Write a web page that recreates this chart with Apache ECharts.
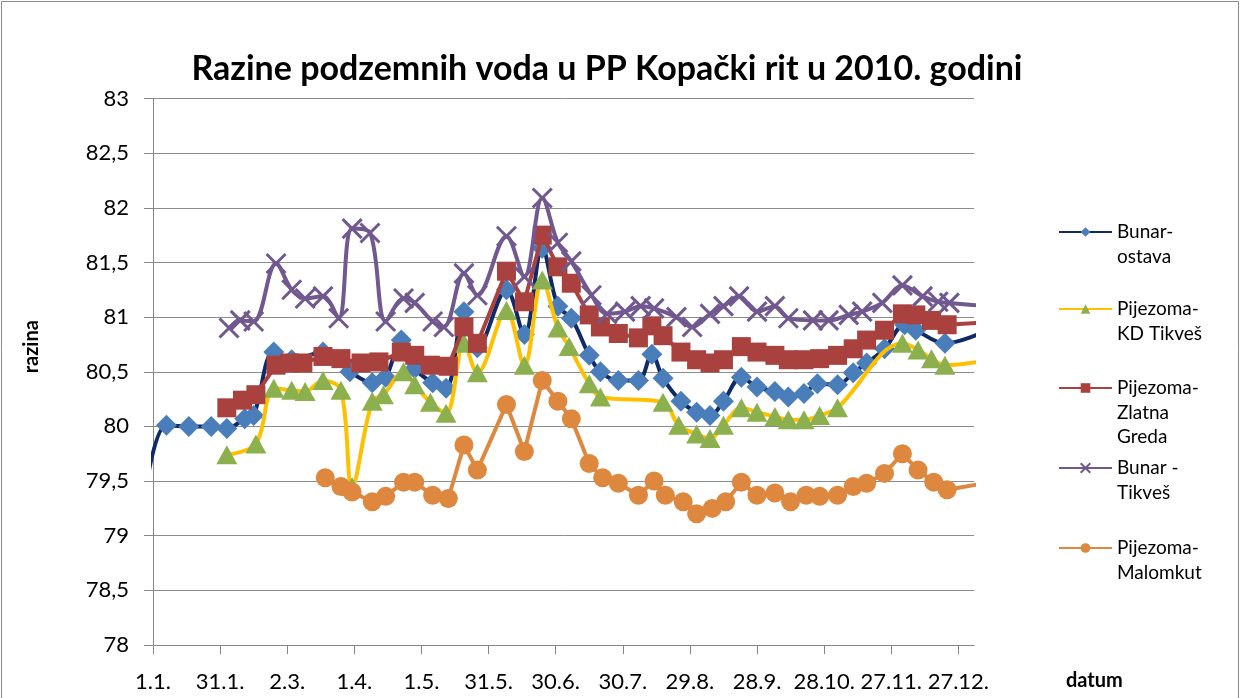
<!DOCTYPE html>
<html><head><meta charset="utf-8">
<script src="https://cdn.jsdelivr.net/npm/echarts@6/dist/echarts.min.js"></script>
<style>html,body{margin:0;padding:0;background:#fff}#c{width:1246px;height:698px}</style>
</head><body><div id="c"></div><script>
// Days counted from 1.1.2010 (0 = 1.1.)
const xTickDays = [0, 30, 60, 90, 120, 150, 180, 210, 240, 270, 300, 330, 360];
const yTicks = { min: 78, max: 83, step: 0.5 };

const seriesNames = ['Bunar-ostava', 'Pijezoma-KD Tikveš', 'Pijezoma-Zlatna Greda', 'Bunar - Tikveš', 'Pijezoma-Malomkut'];
const legendLabels = ['Bunar-\nostava', 'Pijezoma-\nKD Tikveš', 'Pijezoma-\nZlatna\nGreda', 'Bunar -\nTikveš', 'Pijezoma-\nMalomkut'];

const ostavaDays = [-5, 6, 16, 26, 33, 41, 45, 54, 62, 76, 88, 98, 104, 111, 117, 125, 131, 139, 145, 158, 166, 174, 181, 187, 195, 200, 208, 217, 223, 228, 236, 243, 249, 255, 263, 270, 278, 284, 291, 297, 306, 313, 319, 327, 336, 341, 354, 372];
const ostavaVals = [79.2, 80.01, 80.0, 80.0, 79.98, 80.07, 80.10, 80.68, 80.61, 80.68, 80.50, 80.40, 80.45, 80.79, 80.53, 80.40, 80.35, 81.05, 80.72, 81.25, 80.84, 81.63, 81.10, 80.99, 80.65, 80.50, 80.42, 80.42, 80.66, 80.44, 80.23, 80.13, 80.10, 80.23, 80.45, 80.36, 80.32, 80.27, 80.30, 80.39, 80.38, 80.49, 80.58, 80.71, 80.93, 80.88, 80.76, 80.87];

const kdDays = [33, 46, 54, 62, 68, 76, 84, 89, 98, 103, 112, 117, 124, 131, 139, 145, 158, 166, 174, 181, 186, 195, 200, 228, 235, 243, 249, 255, 263, 270, 278, 284, 291, 298, 306, 335, 342, 348, 354, 372];
const kdVals = [79.74, 79.84, 80.35, 80.33, 80.32, 80.42, 80.33, 79.45, 80.23, 80.29, 80.50, 80.38, 80.22, 80.12, 80.76, 80.49, 81.06, 80.56, 81.34, 80.90, 80.73, 80.39, 80.27, 80.22, 80.01, 79.93, 79.89, 80.01, 80.17, 80.13, 80.09, 80.06, 80.06, 80.10, 80.17, 80.76, 80.70, 80.62, 80.56, 80.60];

const zgDays = [33, 40, 46, 55, 61, 67, 76, 84, 93, 101, 111, 117, 124, 132, 139, 145, 158, 166, 174, 181, 187, 195, 200, 208, 217, 223, 228, 236, 243, 249, 255, 263, 270, 278, 284, 291, 298, 306, 313, 319, 327, 335, 341, 348, 355, 372];
const zgVals = [80.17, 80.24, 80.29, 80.56, 80.58, 80.58, 80.64, 80.62, 80.58, 80.59, 80.68, 80.65, 80.56, 80.55, 80.91, 80.76, 81.42, 81.14, 81.75, 81.46, 81.31, 81.02, 80.91, 80.85, 80.81, 80.92, 80.83, 80.68, 80.61, 80.58, 80.61, 80.73, 80.68, 80.65, 80.61, 80.61, 80.62, 80.65, 80.71, 80.79, 80.88, 81.03, 81.02, 80.97, 80.93, 80.95];

const tikDays = [34, 39, 45, 55, 62, 68, 76, 83, 89, 97, 104, 112, 117, 125, 130, 139, 145, 158, 166, 174, 181, 187, 196, 203, 211, 218, 224, 234, 241, 249, 255, 262, 270, 278, 284, 295, 302, 311, 317, 326, 335, 344, 351, 356, 372];
const tikVals = [80.90, 80.97, 80.96, 81.49, 81.25, 81.17, 81.19, 80.99, 81.81, 81.77, 80.96, 81.17, 81.13, 80.96, 80.91, 81.40, 81.20, 81.74, 81.37, 82.09, 81.68, 81.51, 81.20, 81.03, 81.05, 81.10, 81.08, 81.00, 80.91, 81.03, 81.10, 81.19, 81.05, 81.10, 80.99, 80.97, 80.97, 81.02, 81.05, 81.13, 81.29, 81.19, 81.14, 81.13, 81.10];

const malDays = [77, 84, 89, 98, 104, 112, 117, 125, 132, 139, 145, 158, 166, 174, 181, 187, 195, 201, 208, 217, 224, 229, 237, 243, 250, 256, 263, 270, 278, 285, 292, 298, 306, 313, 319, 327, 335, 342, 349, 355, 372];
const malVals = [79.53, 79.45, 79.40, 79.31, 79.36, 79.49, 79.49, 79.37, 79.34, 79.83, 79.60, 80.20, 79.77, 80.42, 80.23, 80.07, 79.66, 79.53, 79.48, 79.37, 79.50, 79.37, 79.31, 79.20, 79.25, 79.31, 79.49, 79.37, 79.39, 79.31, 79.37, 79.36, 79.37, 79.45, 79.48, 79.57, 79.75, 79.60, 79.49, 79.42, 79.48];

const FONT = 'Lato, "Liberation Sans", sans-serif';
const BASE = Date.UTC(2010, 0, 1);
function fmtDay(d) {
  const t = new Date(BASE + d * 86400000);
  return t.getUTCDate() + '.' + (t.getUTCMonth() + 1) + '.';
}
function pairs(days, vals) { return days.map((d, i) => [d, vals[i]]); }

const styles = [
  { line: '#0F2A66', mark: '#4A7EBB', symbol: 'diamond', size: 21, smooth: 0.35 },
  { line: '#FFC000', mark: '#8DB04F', symbol: 'triangle', size: [21, 19], smooth: 0.35 },
  { line: '#A9423F', mark: '#A9423F', symbol: 'rect', size: 19, smooth: false },
  { line: '#71588F', mark: '#71588F', symbol: 'path://M0,0L10,10M10,0L0,10', size: 19, smooth: 0.35, x: true },
  { line: '#DE873E', mark: '#DE873E', symbol: 'circle', size: 19, smooth: false }
];
const dataSets = [pairs(ostavaDays, ostavaVals), pairs(kdDays, kdVals), pairs(zgDays, zgVals), pairs(tikDays, tikVals), pairs(malDays, malVals)];

const series = seriesNames.map((n, i) => {
  const s = styles[i];
  return {
    name: n, type: 'line', data: dataSets[i], z: 2 + i, clip: true,
    smooth: s.smooth, symbol: s.symbol, symbolSize: s.size, showSymbol: true,
    lineStyle: { color: s.line, width: 4 },
    itemStyle: s.x ? { color: 'transparent', borderColor: s.mark, borderWidth: 3 } : { color: s.mark, borderWidth: 0 },
    emphasis: { disabled: true }
  };
});

const LH = 24.5;
const legendIconY = [232, 309, 388, 468, 548];
const legends = seriesNames.map((n, i) => {
  const lines = legendLabels[i].split('\n').length;
  // blank leading lines keep the first text line level with the legend icon
  const shown = '\n'.repeat(lines - 1) + legendLabels[i];
  return {
    data: [n], left: 1058, top: legendIconY[i] - (2 * lines - 1) * LH / 2, padding: 0,
    orient: 'vertical', itemWidth: 53, itemHeight: 12, itemGap: 0, selectedMode: false,
    formatter: () => shown,
    textStyle: { fontFamily: FONT, fontSize: 19, color: '#000', lineHeight: LH }
  };
});

const chart = echarts.init(document.getElementById('c'), null, { renderer: 'canvas' });
chart.setOption({
  animation: false,
  backgroundColor: '#fff',
  textStyle: { fontFamily: FONT },
  title: {
    text: 'Razine podzemnih voda u PP Kopački rit u 2010. godini',
    left: 607, top: 52, textAlign: 'center', padding: 0,
    textStyle: { fontFamily: FONT, fontWeight: 'bold', fontSize: 34, color: '#000' }
  },
  graphic: [{ type: 'rect', shape: { x: 1.5, y: 1.5, width: 1237, height: 720 }, style: { fill: 'none', stroke: '#8A8A8A', lineWidth: 1 }, silent: true }],
  legend: legends,
  grid: { left: 153, right: 272, top: 98.5, bottom: 53, containLabel: false },
  xAxis: {
    type: 'value', min: 0, max: 367,
    axisLine: { show: true, lineStyle: { color: '#868686', width: 1 } },
    axisTick: { show: true, length: 9, customValues: xTickDays, lineStyle: { color: '#868686' } },
    axisLabel: { customValues: xTickDays, formatter: fmtDay, margin: 26, fontFamily: FONT, fontSize: 22, color: '#000' },
    splitLine: { show: false },
    name: 'datum', nameLocation: 'end', nameGap: 92,
    nameTextStyle: { fontFamily: FONT, fontWeight: 'bold', fontSize: 20, color: '#000', verticalAlign: 'top', padding: [26, 0, 0, 0] }
  },
  yAxis: {
    type: 'value', min: yTicks.min, max: yTicks.max, interval: yTicks.step,
    axisLine: { show: true, lineStyle: { color: '#868686', width: 1 } },
    axisTick: { show: true, length: 9, lineStyle: { color: '#868686' } },
    axisLabel: { formatter: v => String(v).replace('.', ','), margin: 24, fontFamily: FONT, fontSize: 22, color: '#000' },
    splitLine: { show: true, lineStyle: { color: '#8C8C8C', width: 1 } },
    name: 'razina', nameLocation: 'middle', nameGap: 111,
    nameTextStyle: { fontFamily: FONT, fontWeight: 'bold', fontSize: 20, color: '#000', padding: [0, 0, 0, 50] }
  },
  series: series
});
</script></body></html>
